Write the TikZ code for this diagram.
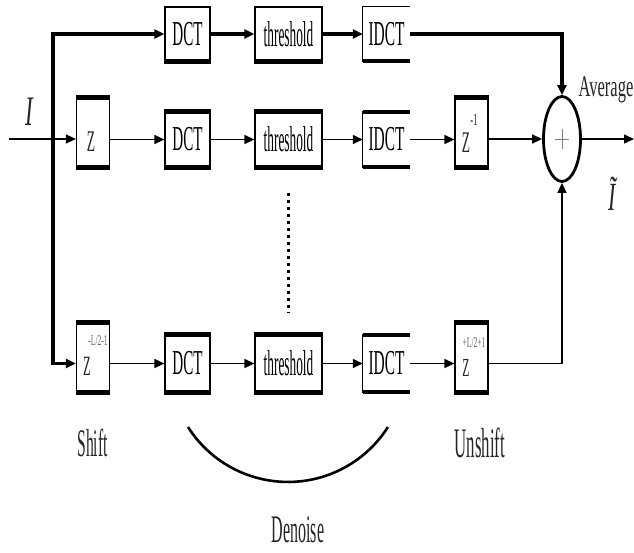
\documentclass[tikz,border=0pt]{standalone}
\usepackage{fontspec}
\setmainfont{Liberation Serif}
\usepackage{graphicx}
\usetikzlibrary{arrows.meta,shapes.geometric}
\newcommand{\sx}[3]{\scalebox{#1}[1]{\fontsize{#2}{#2}\selectfont #3}}
\begin{document}
\begin{tikzpicture}[x=1pt,y=-1pt,
  >={Triangle[length=10pt,width=9pt]},
  box/.style={draw, line width=1.2pt, inner sep=0pt, minimum height=54pt},
  openbox/.style={inner sep=0pt, minimum height=54pt, minimum width=47pt},
  zbox/.style={draw, line width=1.2pt, inner sep=0pt, minimum height=69pt, minimum width=33pt},
  edgebar/.style={line width=4.5pt},
  thk/.style={line width=3.2pt},
  thn/.style={line width=1.4pt},
  txt/.style={inner sep=0pt, text=black!85},
  lbl/.style={inner sep=0pt, text=black!85}
]
\useasboundingbox (0,0) rectangle (634,552);

% ---- top row
\node[box, minimum width=45pt] (dct1) at (187.5,34) {\sx{0.43}{35}{DCT}};
\node[box, minimum width=67pt] (thr1) at (288.5,34) {\sx{0.37}{36}{threshold}};
\node[openbox] (idct1) at (386.5,34) {\sx{0.44}{35}{IDCT}};

% ---- middle row
\node[zbox] (z2) at (93,132.5) {};
\node[txt] (z2t) at (91,142) {\sx{0.45}{30}{Z}};
\node[box, minimum width=45pt, minimum height=55pt] (dct2) at (187.5,139.5) {\sx{0.43}{35}{DCT}};
\node[box, minimum width=67pt, minimum height=55pt] (thr2) at (288.5,139.5) {\sx{0.37}{36}{threshold}};
\node[openbox, minimum height=55pt] (idct2) at (386.5,139.5) {\sx{0.44}{35}{IDCT}};
\node[zbox] (zi2) at (471.5,132.5) {};
\node[txt] (zi2t) at (466,143) {\sx{0.45}{30}{Z}};
\node[txt] (zi2s) at (474,120) {\sx{0.5}{17}{-1}};

% ---- bottom row
\node[zbox] (z3) at (93,357.5) {};
\node[txt] (z3t) at (87,366) {\sx{0.45}{28}{Z}};
\node[txt, text=black!60] (z3s) at (98,341) {\sx{0.5}{15}{-L/2-1}};
\node[box, minimum width=45pt, minimum height=57pt] (dct3) at (187.5,363.5) {\sx{0.43}{35}{DCT}};
\node[box, minimum width=67pt, minimum height=57pt] (thr3) at (288.5,363.5) {\sx{0.37}{36}{threshold}};
\node[openbox, minimum height=57pt] (idct3) at (386.5,363.5) {\sx{0.44}{35}{IDCT}};
\node[zbox] (zi3) at (471.5,357.5) {};
\node[txt] (zi3t) at (466,368) {\sx{0.45}{26}{Z}};
\node[txt, text=black!60] (zi3s) at (474,343) {\sx{0.5}{15}{+L/2+1}};

% ---- open IDCT boxes
\draw[line width=1.2pt] (idct1.north east) -- (idct1.north west) -- (idct1.south west) -- (idct1.south east);
\draw[line width=1.2pt] (idct2.north east) -- (idct2.north west) -- (idct2.south west) -- (idct2.south east);
\draw[line width=1.2pt] (idct3.north east) -- (idct3.north west) -- (idct3.south west) -- (idct3.south east);

% ---- thick bars (bottom edges)
\draw[edgebar] (dct1.south west) -- (dct1.south east);
\draw[edgebar] (thr1.south west) -- (thr1.south east);
\draw[edgebar] (idct1.south west) -- (idct1.south east);
\draw[edgebar] (z2.south west) -- (z2.south east);
\draw[edgebar] (dct2.south west) -- (dct2.south east);
\draw[edgebar] (thr2.south west) -- (thr2.south east);
\draw[edgebar] (idct2.south west) -- (idct2.south east);
\draw[edgebar] (zi2.south west) -- (zi2.south east);
\draw[edgebar] (z3.south west) -- (z3.south east);
\draw[edgebar] (dct3.south west) -- (dct3.south east);
\draw[edgebar] (thr3.south west) -- (thr3.south east);
\draw[edgebar] (idct3.south west) -- (idct3.south east);
\draw[edgebar] (zi3.south west) -- (zi3.south east);
% ---- thick bars (top edges)
\draw[edgebar] (z2.north west) -- (z2.north east);
\draw[edgebar] (dct2.north west) -- (dct2.north east);
\draw[edgebar] (thr2.north west) -- (thr2.north east);
\draw[edgebar] (idct2.north west) -- (idct2.north east);
\draw[edgebar] (zi2.north west) -- (zi2.north east);
\draw[edgebar] (z3.north west) -- (z3.north east);
\draw[edgebar] (dct3.north west) -- (dct3.north east);
\draw[edgebar] (thr3.north west) -- (thr3.north east);
\draw[edgebar] (idct3.north west) -- (idct3.north east);
\draw[edgebar] (zi3.north west) -- (zi3.north east);

% ---- summing junction
\node[ellipse, draw, line width=2.8pt, minimum width=37pt, minimum height=85pt, inner sep=0pt] (sum) at (562,139) {};
\draw[gray, line width=0.6pt] ([xshift=-7pt]sum.center) -- ([xshift=7pt]sum.center);
\draw[gray, line width=0.6pt] ([yshift=10pt]sum.center) -- ([yshift=-10pt]sum.center);

% ---- coordinates
\coordinate (in) at (9,139);
\coordinate (br) at (53,139);
\coordinate (out) at (634,139);
\coordinate (dt) at (288,193);
\coordinate (db) at (288,313);
\coordinate (arcs) at (188,427);

% ---- connectors
\draw[thk,->] (br) |- (dct1.west);
\draw[thk,->] (br) |- (z3.west |- dct3.west);
\draw[thk,->] (dct1) -- (thr1);
\draw[thk,->] (thr1) -- (idct1);
\draw[thk,->] (idct1.east) -| (sum.north);

\draw[thn,->] (in) -- (z2.west |- in);
\draw[thn,->] (z2.east |- dct2) -- (dct2.west);
\draw[thn,->] (dct2) -- (thr2);
\draw[thn,->] (thr2) -- (idct2);
\draw[thn,->] (idct2.east) -- (zi2.west |- idct2);
\draw[thn,->] (zi2.east |- sum) -- (sum.west);
\draw[thn,->] (sum.east) -- (out);

\draw[thn,->] (z3.east |- dct3) -- (dct3.west);
\draw[thn,->] (dct3) -- (thr3);
\draw[thn,->] (thr3) -- (idct3);
\draw[thn,->] (idct3.east) -- (zi3.west |- idct3);
\draw[thn,->] (zi3.east |- idct3) -| (sum.south);

% ---- dots and brace arc
\draw[line width=3pt, dash pattern=on 3pt off 4pt] (dt) -- (db);
\draw[line width=2.6pt] (arcs) arc[start angle=147.6, end angle=32.4, radius=118.4];

% ---- labels
\node[lbl] (lI) at (29,112) {\sx{0.55}{42}{\itshape I}};
\node[lbl] (lIt) at (612,194) {\sx{0.55}{40}{\itshape Ĩ}};
\node[lbl] (lavg) at (606,90) {\sx{0.55}{30}{Average}};
\node[lbl] (lshift) at (92.5,443) {\sx{0.40}{39}{Shift}};
\node[lbl] (lunshift) at (480,443) {\sx{0.40}{42}{Unshift}};
\node[lbl] (ldenoise) at (298,530) {\sx{0.41}{39}{Denoise}};
\end{tikzpicture}
\end{document}
